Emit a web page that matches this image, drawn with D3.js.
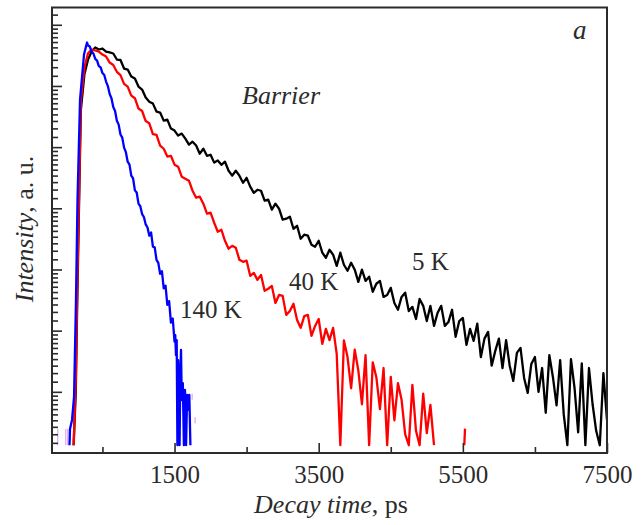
<!DOCTYPE html>
<html><head><meta charset="utf-8">
<script src="https://cdn.jsdelivr.net/npm/d3@7"></script>
<style>
body{margin:0;background:#fff}
svg{display:block}
text{font-family:"Liberation Serif","Times New Roman",serif;fill:#2b2b2b}
</style>
</head><body>
<svg id="chart" width="644" height="525"></svg>
<script>
// ---- data (time in ps, intensity in counts) ----
const xMajorTicks = [1500, 3500, 5500, 7500];
const xMinorTicks = [500, 2500, 4500, 6500];
const yMajorTicks = [3, 9, 27, 81, 243, 729, 2187];
const yMinorSteps = [1.2, 1.4, 1.6, 1.8, 2.0, 2.2, 2.4, 2.6, 2.8];
const seriesLabels = ["5 K", "40 K", "140 K"];

const black5K = [[100,1.15],[130,3.0],[150,15],[200,470],[250,900],[300,1172],[350,1353],[400,1454],[450,1403],[500,1428],[550,1353],[600,1330],[650,1306],[700,1172],[750,1162],[800,997],[850,979],[900,863],[950,833],[1000,721],[1050,683],[1100,592],[1150,550],[1200,531],[1250,460],[1300,452],[1350,391],[1400,398],[1450,339],
[1500,327],[1550,299],[1600,310],[1650,283],[1700,254],[1750,268],[1800,250],[1850,216],[1900,236],[1950,208],[2000,212],[2050,184],[2100,191],[2150,177],[2200,187],[2250,159],[2300,145.5],[2350,159],[2400,145.5],[2450,128],
[2500,140],[2550,119.5],[2600,107],[2650,113],[2700,111],[2750,92.8],[2800,94.5],[2850,79],[2900,88],[2950,80.4],[3000,66],[3050,67.2],[3100,69.7],[3150,56.1],[3200,59.2],[3250,46.9],[3300,50.4],[3350,49.5],[3400,42.1],[3450,40.6],
[3500,45.2],[3550,36.5],[3600,33.3],[3650,38.5],[3700,35.2],[3750,28.8],[3800,36.5],[3850,29.4],[3900,26.4],[3950,30.5],[4000,26.9],[4050,21.6],[4100,26.9],[4150,22.0],[4200,23.7],[4250,18.1],[4300,20.9],[4350,22.0],[4400,16.5],[4450,17.1],
[4500,19.4],[4550,14.8],[4600,13.1],[4650,16.5],[4700,17.8],[4750,12.8],[4800,13.8],[4850,11.1],[4900,15.9],[4950,14.05],[5000,10.7],[5050,14.05],[5100,9.8],[5150,12.4],[5200,14.05],[5250,9.8],[5300,10.5],[5350,13.1],[5400,8.05],[5450,10.7],
[5500,11.3],[5550,6.97],[5600,9.3],[5650,7.5],[5700,10.2],[5750,5.6],[5800,7.8],[5850,8.8],[5900,4.8],[5950,6.26],[6000,7.8],[6050,4.6],[6100,7.6],[6150,4.8],[6200,3.65],[6250,6.04],[6300,6.6],[6350,3.85],[6400,2.94],[6450,4.95],
[6500,5.6],[6550,3.0],[6600,4.6],[6650,2.06],[6700,5.8],[6750,3.9],[6800,2.35],[6850,5.3],[6900,2.0],[6950,1.15],[7000,5.4],[7050,3.2],[7100,1.45],[7150,5.0],[7200,1.15],[7250,4.6],[7300,2.4],[7350,1.49],[7400,1.15],[7450,4.2],[7500,1.81]];

const red40K = [[100,1.15],[130,3.72],[150,18.7],[200,550],[250,1015],[300,1310],[350,1403],[400,1378],[450,1353],[500,1282],[550,1237],[600,1110],[650,1061],[700,940],[750,885],[800,756],[850,721],[900,613],[950,585],[1000,486],[1050,465],[1100,388],[1150,373],[1200,307],[1250,303],[1300,250],[1350,236],[1400,205],[1450,208],
[1500,177.4],[1550,171],[1600,143],[1650,138],[1700,133],[1750,111],[1800,98],[1850,99.8],[1900,88],[1950,73.5],[2000,74.9],[2050,62.5],[2100,53.2],[2150,55.1],[2200,45.2],[2250,39.2],[2300,41.3],[2350,39.9],[2400,32.1],[2450,31.0],
[2500,31.6],[2550,24.1],[2600,25.4],[2650,22.4],[2700,24.5],[2750,18.4],[2800,19.1],[2850,20.1],[2900,14.8],[2950,17.1],[3000,16.8],[3050,11.95],[3100,12.8],[3150,14.6],[3200,10.9],[3250,9.47],[3300,11.7],[3350,11.95],[3400,8.19],[3450,9.8],
[3500,11.1],[3550,7.1],[3600,9.3],[3650,7.6],[3700,9.47],[3750,5.93],[3800,1.15],[3850,7.55],[3900,5.6],[3950,3.2],[4000,6.4],[4050,4.4],[4100,2.4],[4150,5.8],[4200,1.15],[4250,5.1],[4300,3.9],[4350,2.2],[4400,4.6],[4450,1.15],
[4500,3.93],[4550,1.8],[4600,3.5],[4650,2.6],[4700,1.4],[4750,1.15],[4800,3.4],[4850,1.49],[4900,1.15],[4950,2.9],[5000,1.43],[5050,2.37],[5100,1.15],[5300,null],[5520,1.15],[5530,1.55]];

const blue140K = [[43,1.15],[50,1.54],[78,1.81],[106,2.74],[133,15.66],[154,94.5],[189,571],[244,1282],[286,1591],[300,1507],[325,1480],[350,1338],[375,1306],[400,1185],[425,1151],[450,1041],[475,1017],[500,919],[525,888],[550,789],[575,727],[600,631],[625,585],[650,500],[675,465],[700,390],[725,364],[750,305],[775,288],[800,241],[825,222],[850,187],[875,177.6],[900,145.6],[925,138.4],[950,111.8],[975,107.5],[1000,88],[1025,84],[1050,73],[1075,69.3],[1100,60.6],[1125,57.4],[1150,49.5],[1175,52.4],[1200,40.7],[1225,40.2],[1250,32.1],[1275,30.4],[1300,25.0],[1325,26.2],[1350,19.2],[1375,20.2],[1400,14.3],[1425,15.3],[1450,10.4],[1475,11.2],[1500,7.4],[1510,8.3],[1520,5.8],[1530,7.6],[1540,1.15],[1550,5.3],[1560,3.7],[1570,1.15],[1580,4.07],[1590,6.37],[1600,2.59],[1615,3.5],[1630,1.15],[1645,3.1],[1660,1.15],[1675,2.84],[1690,2.17],[1705,2.84],[1720,1.15]];

// faint background counts (time, low, high)
const faintMarks = [[-121,1.15,1.54],[-10,1.15,1.54],[18,1.15,1.54],[1745,2.6,2.9],[1786,1.7,1.9],[7495,1.15,1.3]];

// ---- drawing ----
const svg = d3.select("#chart");
const L = 52, R = 607, T = 7.5, B = 453;
const x = d3.scaleLinear().domain([-200, 7500]).range([L, R]);
const y = d3.scaleLog().domain([1, 2983]).range([B, T]);

const yMinorTicks = [];
[1].concat(yMajorTicks).forEach(b => yMinorSteps.forEach(s => { const v = b * s; if (v < 2983) yMinorTicks.push(v); }));

svg.append("defs").append("clipPath").attr("id", "clip")
  .append("rect").attr("x", L).attr("y", T).attr("width", R - L).attr("height", B - T);

const plot = svg.append("g").attr("clip-path", "url(#clip)");

plot.selectAll("line.faint").data(faintMarks).join("line")
  .attr("x1", d => x(d[0])).attr("x2", d => x(d[0]))
  .attr("y1", d => y(d[1])).attr("y2", d => y(d[2]))
  .attr("stroke", "#e4b6ee").attr("stroke-width", 1.5);

const line = d3.line().defined(d => d[1] != null).x(d => x(d[0])).y(d => y(d[1]));
[[black5K, "#000000"], [red40K, "#ff0000"], [blue140K, "#0000ff"]].forEach(([data, col]) => {
  plot.append("path").datum(data).attr("d", line)
    .attr("fill", "none").attr("stroke", col).attr("stroke-width", 2.3).attr("stroke-linejoin", "round");
});

// axes (inward ticks)
const gx = svg.append("g").attr("transform", `translate(0,${B})`);
gx.call(d3.axisBottom(x).tickValues(xMinorTicks).tickSize(-6).tickFormat(""));
const gx2 = svg.append("g").attr("transform", `translate(0,${B})`);
gx2.call(d3.axisBottom(x).tickValues(xMajorTicks).tickSize(-10).tickPadding(12).tickFormat(d3.format("d")));
const gy = svg.append("g").attr("transform", `translate(${L},0)`);
gy.call(d3.axisLeft(y).tickValues(yMinorTicks).tickSize(-6).tickFormat(""));
const gy2 = svg.append("g").attr("transform", `translate(${L},0)`);
gy2.call(d3.axisLeft(y).tickValues(yMajorTicks).tickSize(-10).tickFormat(""));
[gx, gx2, gy, gy2].forEach(g => {
  g.select(".domain").remove();
  g.selectAll(".tick line").attr("stroke", "#2b2b2b").attr("stroke-width", 1.6);
  g.selectAll("text").attr("font-size", 25).attr("font-family", "'Liberation Serif','Times New Roman',serif").attr("fill", "#2b2b2b");
});

svg.append("rect").attr("x", L).attr("y", T).attr("width", R - L).attr("height", B - T)
  .attr("fill", "none").attr("stroke", "#2b2b2b").attr("stroke-width", 2);

// titles and annotations
const xt = svg.append("text").attr("x", 331).attr("y", 513).attr("text-anchor", "middle").attr("font-size", 26);
xt.append("tspan").attr("font-style", "italic").text("Decay time");
xt.append("tspan").text(", ps");

const yt = svg.append("text").attr("transform", "translate(33,229) rotate(-90)").attr("text-anchor", "middle").attr("font-size", 26);
yt.append("tspan").attr("font-style", "italic").text("Intensity");
yt.append("tspan").text(", a. u.");

svg.append("text").attr("x", 573).attr("y", 39).attr("font-size", 27).attr("font-style", "italic").text("a");
svg.append("text").attr("x", 242).attr("y", 104).attr("font-size", 26).attr("font-style", "italic").text("Barrier");
svg.append("text").attr("x", 412).attr("y", 270).attr("font-size", 25).text(seriesLabels[0]);
svg.append("text").attr("x", 289).attr("y", 290).attr("font-size", 25).text(seriesLabels[1]);
svg.append("text").attr("x", 180).attr("y", 318).attr("font-size", 25).text(seriesLabels[2]);
</script>
</body></html>
